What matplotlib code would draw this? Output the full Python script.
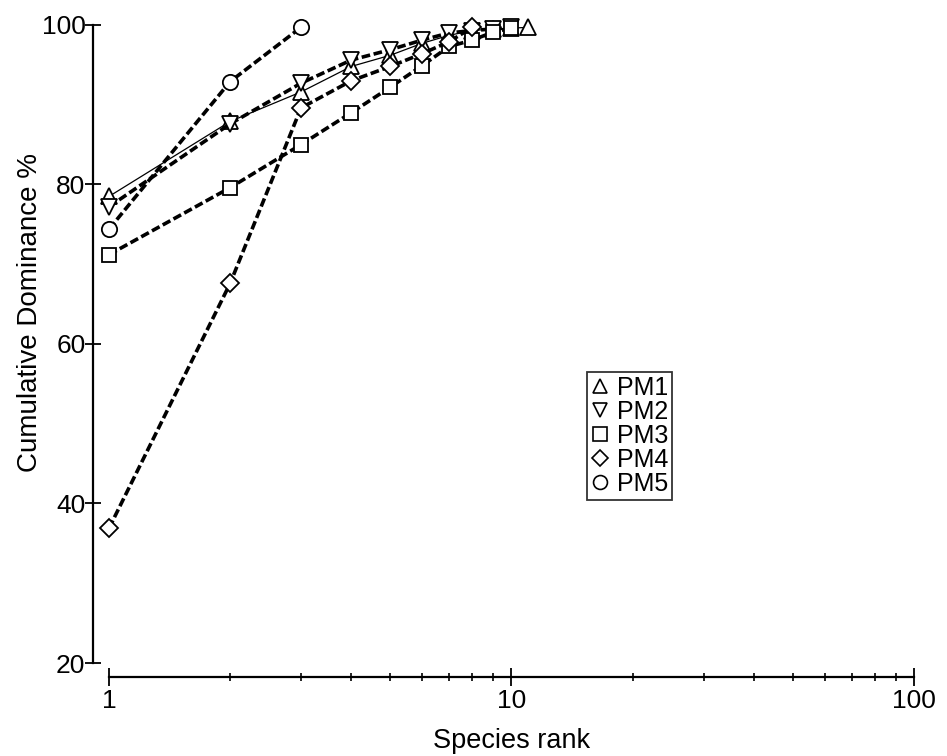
import matplotlib
matplotlib.use("Agg")
import matplotlib.pyplot as plt
from matplotlib.ticker import FixedLocator, NullFormatter, FixedFormatter
from matplotlib.lines import Line2D

plt.rcParams['font.family'] = ['Liberation Sans', 'DejaVu Sans']

series_names = ["PM1", "PM2", "PM3", "PM4", "PM5"]
pm1 = [78.5, 87.9, 91.6, 94.8, 96.2, 97.7, 98.7, 99.3, 99.5, 99.6, 99.7]
pm2 = [77.2, 87.6, 92.7, 95.6, 96.9, 98.1, 99.0, 99.3, 99.5, 99.7]
pm3 = [71.2, 79.6, 85.0, 89.0, 92.2, 94.9, 97.3, 98.1, 99.1, 99.6]
pm4 = [36.9, 67.6, 89.6, 93.0, 94.8, 96.4, 97.9, 99.7]
pm5 = [74.4, 92.9, 99.7]
series_values = [pm1, pm2, pm3, pm4, pm5]
markers = ["^", "v", "s", "D", "o"]
y_ticks = [20, 40, 60, 80, 100]
x_ticks = [1, 10, 100]
x_ticklabels = ["1", "10", "100"]

fig = plt.figure(figsize=(9.47, 7.56), dpi=100)
ax = fig.add_axes([0.1151, 0.123, 0.850, 0.844])

for name, vals, mk in zip(series_names, series_values, markers):
    ranks = list(range(1, len(vals) + 1))
    if name == "PM1":
        ls = dict(linestyle='-', linewidth=0.9)
    else:
        ls = dict(linestyle=(0, (2.4, 1.0)), linewidth=2.6, dash_capstyle='butt')
    ms = 11 if mk in ("^", "v", "o") else 10
    if mk == "D":
        ms = 9
    ax.plot(ranks, vals, marker=mk, markersize=ms, markerfacecolor='white',
            markeredgecolor='black', markeredgewidth=1.3, color='black',
            label=name, clip_on=False, **ls)

ax.set_xscale('log')
ax.set_xlim(1, 100)
ax.set_ylim(20, 100)

ax.spines['top'].set_visible(False)
ax.spines['right'].set_visible(False)
ax.spines['left'].set_position(('outward', 11.5))
ax.spines['bottom'].set_position(('outward', 10))
ax.spines['left'].set_linewidth(1.6)
ax.spines['bottom'].set_linewidth(1.6)
ax.spines['left'].set_bounds(20, 100)
ax.spines['bottom'].set_bounds(1, 100)

ax.xaxis.set_major_locator(FixedLocator(x_ticks))
ax.xaxis.set_major_formatter(FixedFormatter(x_ticklabels))
ax.xaxis.set_minor_locator(FixedLocator([2, 3, 4, 5, 6, 7, 8, 9, 20, 30, 40, 50, 60, 70, 80, 90]))
ax.xaxis.set_minor_formatter(NullFormatter())
ax.set_yticks(y_ticks)
ax.set_yticklabels([str(v) for v in y_ticks])

ax.tick_params(axis='x', which='major', direction='inout', length=13, width=1.3,
               labelsize=19, pad=2)
ax.tick_params(axis='x', which='minor', direction='inout', length=6, width=1.2)
ax.tick_params(axis='y', which='major', direction='inout', length=11, width=1.3,
               labelsize=19, pad=0)
ax.tick_params(axis='y', which='minor', left=False)

ax.set_xlabel("Species rank", fontsize=19.5)
ax.xaxis.set_label_coords(0.5, -0.102)
ax.set_ylabel("Cumulative Dominance %", fontsize=20)
ax.yaxis.set_label_coords(-0.098, 0.55)
ax.yaxis.label.set_verticalalignment('center')

leg_handles = [Line2D([], [], linestyle='none', marker=m, markersize=10 if m != 'D' else 8,
                      markerfacecolor='white', markeredgecolor='black', markeredgewidth=1.2)
               for m in markers]
leg = ax.legend(leg_handles, series_names, loc='upper left',
                bbox_to_anchor=(0.594, 0.456), borderaxespad=0, fontsize=18,
                frameon=True, fancybox=False, edgecolor='black', handlelength=0.7,
                handletextpad=0.35, labelspacing=0.0, borderpad=0.15)
leg.get_frame().set_linewidth(1.3)

fig.savefig("out.png", dpi=100)
